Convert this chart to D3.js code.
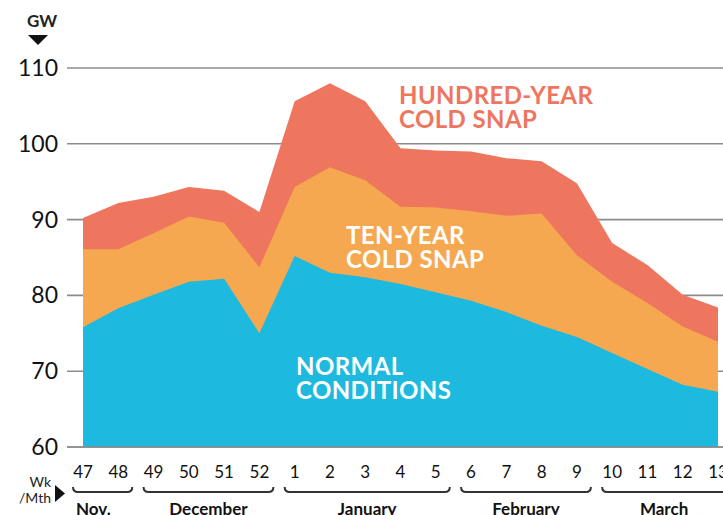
<!DOCTYPE html>
<html>
<head>
<meta charset="utf-8">
<script src="https://cdn.jsdelivr.net/npm/d3@7"></script>
<style>
  body { margin: 0; background: #fff; }
  svg { display: block; font-family: Lato, "Open Sans", sans-serif; }
</style>
</head>
<body>
<div id="chart"></div>
<script>
// weeks along the bottom, winter 2 seasons
var weeks = ["47","48","49","50","51","52","1","2","3","4","5","6","7","8","9","10","11","12","13"];
// GW, top of each band
var normal      = [75.8,78.3,80.1,81.8,82.2,75.0,85.2,83.0,82.4,81.5,80.4,79.3,77.8,76.0,74.5,72.4,70.3,68.2,67.3];
var tenYear     = [86.1,86.1,88.2,90.4,89.6,83.7,94.3,96.9,95.2,91.7,91.6,91.1,90.5,90.8,85.3,81.8,79.0,75.9,73.9];
var hundredYear = [90.2,92.2,93.0,94.3,93.8,91.0,105.6,108.0,105.6,99.4,99.1,99.0,98.1,97.7,94.8,86.9,84.0,80.1,78.4];
var yTicks = [60,70,80,90,100,110];
var months = ["Nov.","December","January","February","March"];
var monthFirst = [0,2,6,11,15];
var monthLast  = [1,5,10,14,18];

var W = 723, H = 515;
var svg = d3.select("#chart").append("svg").attr("width", W).attr("height", H);

var x = d3.scalePoint().domain(weeks).range([83, 718]);
var y = d3.scaleLinear().domain([60, 110]).range([447, 68]);

// grid lines behind the areas
svg.selectAll("line.grid").data(yTicks).enter().append("line")
   .attr("class", "grid")
   .attr("x1", 67).attr("x2", W)
   .attr("y1", function(d) { return y(d); })
   .attr("y2", function(d) { return y(d); })
   .attr("stroke", "#8c8c8c").attr("stroke-width", 1.6);

svg.selectAll("text.ytick").data(yTicks).enter().append("text")
   .attr("class", "ytick")
   .attr("x", 58).attr("y", function(d) { return y(d) + 8; })
   .attr("text-anchor", "end")
   .attr("font-size", 23).attr("fill", "#111")
   .text(function(d) { return d; });

function band(vals) {
  return d3.area()
    .x(function(d, i) { return x(weeks[i]); })
    .y0(y(60))
    .y1(function(d) { return y(d); })(vals);
}

svg.append("path").attr("d", band(hundredYear)).attr("fill", "#ee765f");
svg.append("path").attr("d", band(tenYear)).attr("fill", "#f5a84f");
svg.append("path").attr("d", band(normal)).attr("fill", "#1db9de");

// baseline
svg.append("line").attr("x1", 67).attr("x2", W)
   .attr("y1", y(60)).attr("y2", y(60))
   .attr("stroke", "#8c8c8c").attr("stroke-width", 1.6);

// band labels
function label(lines, lx, ly, col) {
  var t = svg.append("text").attr("x", lx).attr("y", ly)
     .attr("font-size", 24).attr("font-weight", 700).attr("fill", col)
     .attr("letter-spacing", 0.4);
  lines.forEach(function(s, i) {
    t.append("tspan").attr("x", lx).attr("dy", i ? 23.5 : 0).text(s);
  });
}
label(["HUNDRED-YEAR", "COLD SNAP"], 399, 104, "#ee765f");
label(["TEN-YEAR", "COLD SNAP"], 346, 244, "#fff");
label(["NORMAL", "CONDITIONS"], 296, 375, "#fff");

// GW unit
svg.append("text").attr("x", 27).attr("y", 27)
   .attr("font-size", 17).attr("font-weight", 700).attr("fill", "#222").text("GW");
svg.append("path").attr("d", "M28,35 L48,35 L38,45 Z").attr("fill", "#111");

// week labels
svg.selectAll("text.wk").data(weeks).enter().append("text")
   .attr("class", "wk")
   .attr("x", function(d) { return x(d); }).attr("y", 478)
   .attr("text-anchor", "middle")
   .attr("font-size", 17).attr("fill", "#111")
   .text(function(d) { return d; });

svg.append("text").attr("x", 51).attr("y", 487).attr("text-anchor", "end")
   .attr("font-size", 14).attr("fill", "#222").text("Wk");
svg.append("text").attr("x", 51).attr("y", 503).attr("text-anchor", "end")
   .attr("font-size", 14).attr("fill", "#222").text("/Mth");
svg.append("path").attr("d", "M55,485 L65,493.5 L55,502 Z").attr("fill", "#111");

// month brackets
var by = 492;
months.forEach(function(m, i) {
  var x1 = x(weeks[monthFirst[i]]) - 10;
  var x2 = x(weeks[monthLast[i]]) + 14;
  svg.append("path")
     .attr("d", "M" + x1 + "," + (by - 5) + " Q" + x1 + "," + by + " " + (x1 + 5) + "," + by +
                " L" + (x2 - 5) + "," + by + " Q" + x2 + "," + by + " " + x2 + "," + (by - 5))
     .attr("fill", "none").attr("stroke", "#333").attr("stroke-width", 2);
  var first = i === 0;
  svg.append("text")
     .attr("x", first ? x1 + 3 : (x1 + x2) / 2 + (i === 4 ? -3 : 0))
     .attr("y", 515)
     .attr("text-anchor", first ? "start" : "middle")
     .attr("font-size", 17).attr("font-weight", 700).attr("fill", "#111")
     .text(m);
});
</script>
</body>
</html>
